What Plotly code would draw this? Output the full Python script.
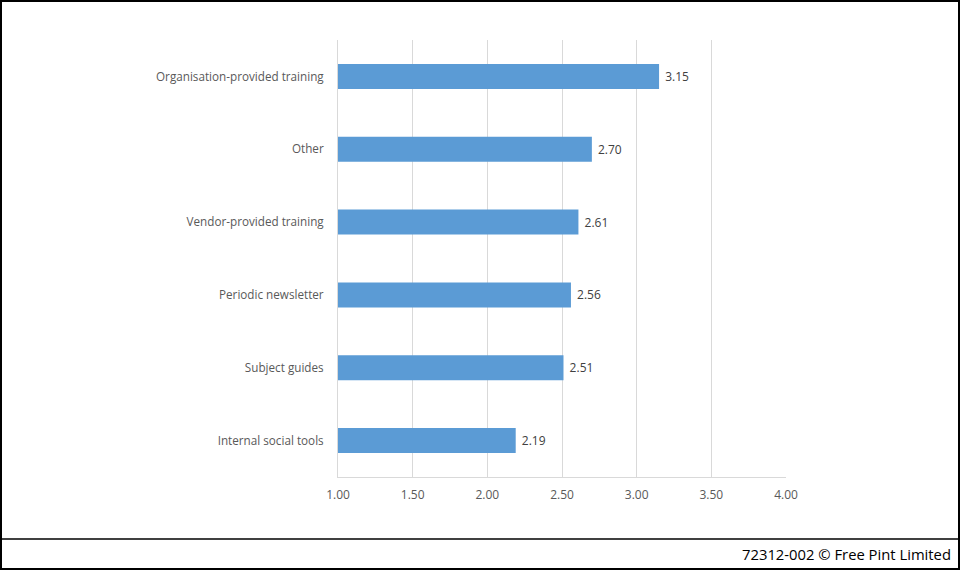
import plotly.graph_objects as go

categories = ["Internal social tools", "Subject guides", "Periodic newsletter",
              "Vendor-provided training", "Other", "Organisation-provided training"]
values = [2.19, 2.51, 2.56, 2.61, 2.70, 3.15]
x_ticks = [1.0, 1.5, 2.0, 2.5, 3.0, 3.5, 4.0]
x_tick_labels = ["1.00", "1.50", "2.00", "2.50", "3.00", "3.50", "4.00"]
footer = "72312-002 © Free Pint Limited"

W, H = 960, 570
L, R, T, B = 338, 786, 40, 477

def px(x):
    return (x - L) / (R - L)

def py(y):
    return (B - y) / (B - T)

fig = go.Figure(go.Bar(
    x=values, y=categories, orientation="h",
    marker=dict(color="#5B9BD5", line=dict(width=0)),
    text=[f" {v:.2f}" for v in values], textposition="outside",
    textfont=dict(color="#404040", size=12, family="Open Sans"),
    cliponaxis=True,
))

fig.update_layout(
    width=W, height=H,
    margin=dict(l=L, r=W - R, t=T, b=H - B),
    paper_bgcolor="white", plot_bgcolor="white",
    bargap=0.656, showlegend=False,
    font=dict(family="Open Sans", size=11.7, color="#595959"),
    xaxis=dict(range=[1, 4], tickvals=x_ticks, ticktext=x_tick_labels,
               showgrid=True, gridcolor="#D9D9D9", gridwidth=1, zeroline=False,
               showline=True, linecolor="#D9D9D9", ticks="", ticklabelstandoff=7,
               tickfont=dict(size=12, color="#595959")),
    yaxis=dict(showgrid=False, zeroline=False, showline=True, linecolor="#D9D9D9",
               ticks="", ticklabelstandoff=11, tickfont=dict(size=11.7, color="#595959")),
    shapes=[
        dict(type="rect", xref="paper", yref="paper", x0=px(1), x1=px(959), y0=py(1), y1=py(569),
             line=dict(color="black", width=2), fillcolor="rgba(0,0,0,0)"),
        dict(type="line", xref="paper", yref="paper", x0=px(1), x1=px(959), y0=py(539), y1=py(539),
             line=dict(color="black", width=1.5)),
    ],
    annotations=[
        dict(text=footer, xref="paper", yref="paper", x=px(953), y=py(554),
             xanchor="right", yanchor="middle", showarrow=False,
             font=dict(family="Open Sans", size=14.8, color="black")),
    ],
)

fig.write_html("out.html", config={"displayModeBar": False},
               post_script="document.body.style.margin='0';")
